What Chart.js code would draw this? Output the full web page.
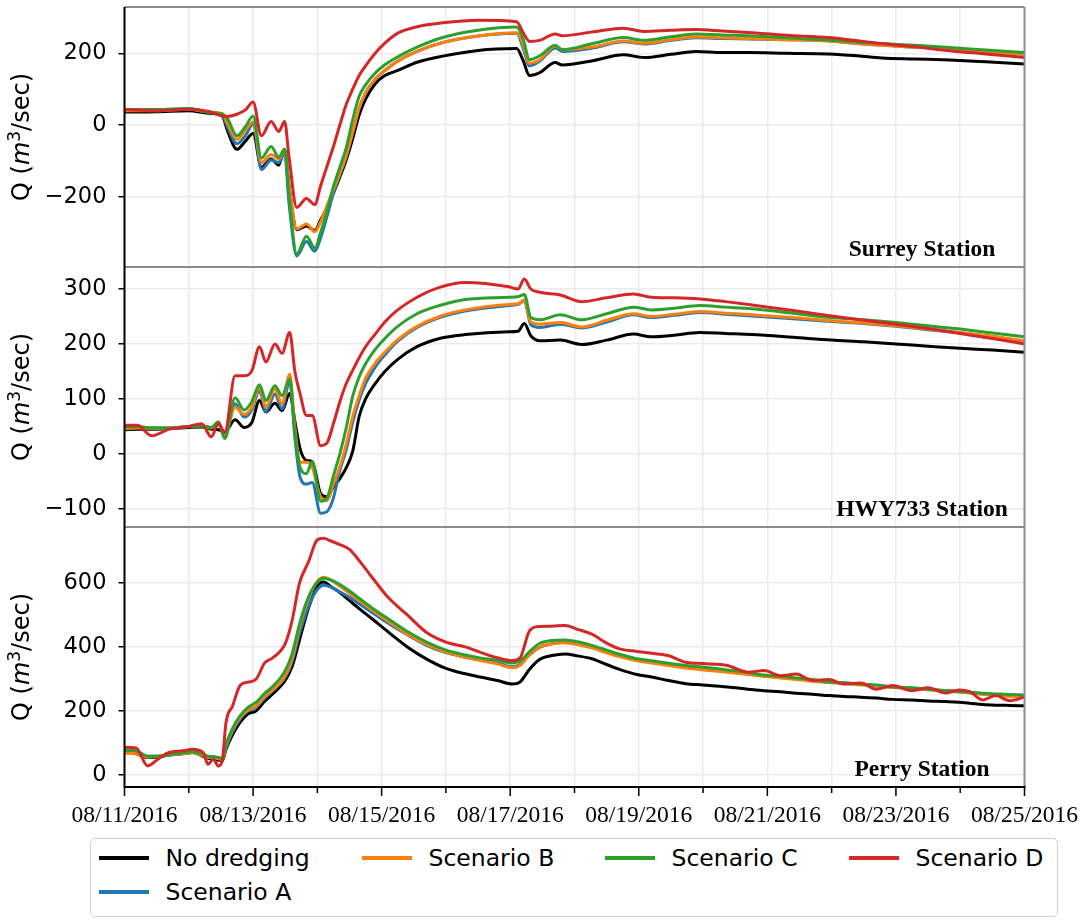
<!DOCTYPE html>
<html>
<head>
<meta charset="utf-8">
<script src="https://cdn.jsdelivr.net/npm/chart.js@4.4.1/dist/chart.umd.min.js"></script>
<style>
    html, body { margin: 0; padding: 0; background: #fff; }
    #wrap { position: relative; width: 1084px; height: 924px; overflow: hidden; }
    #chartBox { position: absolute; left: 0; top: 0; width: 1084px; height: 840px; }
    #legend {
        position: absolute; left: 90px; top: 838px; width: 968px; height: 79px;
        box-sizing: border-box; border: 1.5px solid #d0d0d0; border-radius: 5px;
        font-family: "DejaVu Sans"; font-size: 23.5px; color: #000; background: #fff;
    }
    .item { position: absolute; display: flex; align-items: center; height: 30px; white-space: nowrap; }
    .swatch { width: 50px; height: 4px; margin-right: 17px; }
</style>
</head>
<body>
<div id="wrap">
    <div id="chartBox"><canvas id="flowChart"></canvas></div>
    <div id="legend"></div>
</div>
<script>
const SERIES_NAMES = ['No dredging', 'Scenario A', 'Scenario B', 'Scenario C', 'Scenario D'];
const SERIES_COLORS = ['#000000', '#1f77b4', '#ff7f0e', '#2ca02c', '#d62728'];
const STATION_NAMES = ['Surrey Station', 'HWY733 Station', 'Perry Station'];
const X_TICK_LABELS = ['08/11/2016', '08/13/2016', '08/15/2016', '08/17/2016', '08/19/2016', '08/21/2016', '08/23/2016', '08/25/2016'];

const surreyTicks = [-200, 0, 200];
const hwyTicks = [-100, 0, 100, 200, 300];
const perryTicks = [0, 200, 400, 600];

// x values are days since 08/11/2016 00:00
const surreyDays = [0, 0.5, 1.0, 1.3, 1.52, 1.6, 1.75, 1.88, 2.0, 2.13, 2.28, 2.4, 2.49, 2.56, 2.68, 2.83, 2.96, 3.05, 3.15, 3.25, 3.35, 3.45, 3.55, 3.65, 3.75, 3.9, 4.05, 4.25, 4.55, 4.95, 5.5, 6.1, 6.2, 6.3, 6.46, 6.7, 6.81, 7.3, 7.76, 8.08, 8.5, 8.89, 9.3, 9.7, 10.3, 10.95, 11.4, 11.78, 12.3, 12.84, 13.4, 14.0];
const surreyNoDredging = [36, 37, 40, 33, 25, -15, -68, -45, -24, -118, -95, -112, -68, -170, -292, -282, -294, -265, -232, -190, -145, -97, -38, 28, 72, 115, 138, 152, 175, 192, 208, 213, 180, 138, 146, 174, 167, 180, 196, 188, 197, 205, 202, 202, 200, 198, 193, 187, 184, 181, 176, 170];
const surreyA = [42, 42, 45, 36, 28, -5, -52, -30, 2, -124, -98, -105, -78, -220, -365, -325, -352, -315, -255, -190, -138, -88, -22, 45, 90, 128, 152, 178, 205, 230, 248, 256, 215, 165, 178, 215, 205, 215, 232, 226, 236, 243, 241, 240, 238, 235, 227, 222, 217, 212, 205, 197];
const surreyB = [40, 40, 44, 36, 32, 5, -40, -15, 8, -105, -82, -95, -70, -170, -290, -276, -298, -270, -225, -180, -135, -85, -20, 48, 90, 128, 152, 178, 205, 230, 248, 257, 225, 172, 182, 220, 210, 218, 234, 228, 238, 245, 243, 241, 238, 234, 227, 222, 217, 212, 205, 198];
const surreyC = [43, 43, 46, 36, 30, 18, -30, -5, 25, -92, -60, -90, -68, -200, -360, -310, -343, -300, -240, -172, -118, -63, 15, 80, 112, 145, 168, 190, 217, 244, 264, 273, 240, 182, 193, 222, 210, 228, 244, 236, 246, 254, 251, 249, 243, 237, 231, 227, 222, 216, 209, 202];
const surreyD = [43, 40, 44, 38, 25, 24, 30, 42, 64, -30, 10, -18, 10, -90, -230, -205, -222, -170, -115, -60, 0, 58, 100, 138, 165, 200, 228, 256, 274, 285, 292, 288, 258, 233, 236, 254, 249, 260, 270, 261, 264, 266, 262, 258, 250, 244, 235, 227, 218, 207, 198, 188];

const hwyDays = [0, 0.2, 0.42, 0.7, 1.0, 1.2, 1.35, 1.46, 1.56, 1.72, 1.86, 1.98, 2.1, 2.2, 2.34, 2.45, 2.57, 2.65, 2.73, 2.83, 2.92, 3.05, 3.15, 3.25, 3.35, 3.45, 3.55, 3.65, 3.75, 3.9, 4.05, 4.25, 4.55, 4.9, 5.3, 5.98, 6.12, 6.22, 6.32, 6.46, 6.78, 7.11, 7.5, 7.92, 8.19, 8.55, 8.95, 9.35, 9.76, 10.4, 11.0, 11.5, 12.0, 12.5, 13.0, 13.5, 14.0];
const hwyNoDredging = [44, 45, 45, 46, 48, 49, 45, 44, 40, 62, 48, 57, 97, 76, 92, 79, 110, 60, 10, -12, -14, -72, -78, -60, -45, -25, 5, 68, 100, 128, 150, 172, 195, 210, 217, 222, 223, 237, 215, 206, 207, 199, 207, 218, 213, 216, 221, 219, 217, 212, 207, 204, 200, 196, 192, 189, 185];
const hwyA = [48, 49, 47, 47, 50, 51, 48, 55, 32, 91, 67, 80, 115, 77, 109, 82, 133, 30, -42, -55, -52, -108, -105, -80, -30, 8, 58, 98, 128, 158, 180, 205, 230, 248, 260, 270, 272, 278, 235, 230, 236, 229, 240, 253, 248, 252, 257, 254, 251, 246, 241, 237, 232, 226, 220, 213, 205];
const hwyB = [46, 47, 46, 47, 50, 51, 47, 58, 35, 85, 72, 85, 121, 85, 118, 91, 145, 50, -15, -15, -24, -78, -85, -55, -24, 18, 68, 106, 138, 165, 185, 208, 232, 250, 262, 272, 273, 280, 240, 236, 239, 231, 243, 255, 250, 254, 259, 256, 253, 248, 242, 238, 233, 227, 221, 214, 206];
const hwyC = [48, 50, 47, 47, 50, 51, 48, 58, 28, 102, 80, 95, 126, 97, 124, 106, 136, 40, -24, -36, -14, -86, -80, -40, 0, 48, 105, 140, 164, 190, 210, 232, 255, 270, 281, 285, 286, 290, 248, 244, 253, 244, 255, 267, 262, 265, 270, 267, 264, 256, 248, 244, 239, 233, 227, 220, 213];
const hwyD = [52, 52, 33, 45, 50, 55, 31, 55, 39, 142, 142, 151, 195, 167, 200, 183, 221, 150, 110, 70, 70, 15, 20, 55, 95, 128, 152, 175, 195, 218, 240, 262, 285, 303, 312, 304, 300, 318, 300, 294, 289, 277, 284, 291, 285, 284, 282, 277, 271, 261, 251, 243, 236, 228, 219, 210, 200];

const perryDays = [0, 0.18, 0.36, 0.52, 0.69, 0.9, 1.06, 1.22, 1.3, 1.38, 1.46, 1.52, 1.58, 1.68, 1.8, 1.92, 2.05, 2.18, 2.3, 2.5, 2.61, 2.72, 2.86, 3.0, 3.1, 3.2, 3.35, 3.5, 3.65, 3.85, 4.1, 4.4, 4.7, 5.0, 5.3, 5.55, 5.8, 6.03, 6.15, 6.3, 6.45, 6.65, 6.85, 7.05, 7.27, 7.5, 7.7, 7.97, 8.2, 8.46, 8.73, 9.0, 9.38, 9.7, 9.95, 10.2, 10.45, 10.7, 10.95, 11.2, 11.45, 11.7, 11.95, 12.25, 12.5, 12.77, 12.98, 13.15, 13.35, 13.55, 13.77, 14.0];
const perryNoDredging = [70, 66, 54, 56, 62, 66, 70, 58, 52, 50, 46, 44, 80, 125, 165, 190, 200, 230, 252, 295, 340, 420, 520, 590, 603, 590, 570, 545, 520, 488, 447, 400, 362, 333, 316, 305, 295, 284, 290, 330, 360, 373, 378, 372, 363, 345, 330, 314, 306, 295, 285, 281, 275, 268, 263, 260, 255, 252, 248, 245, 243, 240, 236, 234, 231, 229, 227, 224, 220, 218, 217, 216];
const perryA = [75, 74, 58, 58, 62, 67, 70, 62, 55, 57, 52, 48, 85, 135, 175, 200, 212, 240, 262, 305, 355, 440, 525, 580, 593, 588, 572, 555, 535, 508, 474, 438, 405, 382, 368, 358, 350, 338, 345, 375, 398, 410, 414, 408, 398, 383, 372, 360, 352, 344, 336, 331, 324, 316, 309, 305, 300, 295, 290, 287, 283, 279, 275, 271, 267, 263, 260, 257, 253, 250, 247, 245];
const perryB = [68, 66, 55, 58, 63, 66, 70, 60, 55, 54, 50, 48, 90, 140, 180, 203, 215, 245, 265, 310, 365, 460, 550, 605, 618, 610, 590, 568, 545, 515, 480, 440, 408, 384, 368, 357, 347, 335, 342, 375, 398, 410, 413, 407, 397, 382, 370, 357, 350, 342, 334, 328, 321, 314, 308, 303, 298, 293, 289, 285, 281, 277, 273, 269, 266, 262, 259, 256, 252, 249, 246, 244];
const perryC = [78, 75, 58, 58, 63, 68, 72, 65, 58, 55, 55, 49, 95, 145, 185, 211, 227, 255, 275, 326, 380, 470, 555, 603, 615, 610, 595, 575, 552, 522, 488, 448, 415, 390, 375, 365, 358, 350, 355, 385, 410, 420, 422, 416, 405, 390, 377, 363, 357, 349, 342, 337, 328, 320, 312, 308, 303, 298, 290, 288, 284, 281, 275, 272, 268, 264, 261, 258, 255, 253, 251, 250];
const perryD = [86, 84, 28, 49, 70, 75, 80, 70, 33, 49, 28, 44, 165, 215, 280, 290, 300, 350, 365, 410, 485, 598, 665, 735, 740, 732, 720, 705, 670, 618, 555, 500, 445, 415, 400, 382, 366, 357, 365, 450, 464, 465, 467, 455, 440, 412, 394, 386, 380, 373, 352, 348, 342, 321, 326, 310, 315, 295, 298, 284, 287, 268, 279, 263, 272, 256, 265, 260, 234, 248, 232, 243];

const GRID_COLOR = '#ebebeb';
const FRAME_GRAY = '#8c8c8c';
const TICK_FONT = '"DejaVu Sans"';

const panels = [
    { id: 'ySurrey', days: surreyDays, series: [surreyNoDredging, surreyA, surreyB, surreyC, surreyD], ticks: surreyTicks, min: -396, max: 329, weight: 3 },
    { id: 'yHwy', days: hwyDays, series: [hwyNoDredging, hwyA, hwyB, hwyC, hwyD], ticks: hwyTicks, min: -133, max: 340, weight: 2 },
    { id: 'yPerry', days: perryDays, series: [perryNoDredging, perryA, perryB, perryC, perryD], ticks: perryTicks, min: -38, max: 775, weight: 1 }
];

function formatTick(v) {
    return v < 0 ? '\u2212' + Math.abs(v) : String(v);
}

function createYScale(panel) {
    return {
        type: 'linear',
        position: 'left',
        stack: 'stations',
        stackWeight: 1,
        weight: panel.weight,
        min: panel.min,
        max: panel.max,
        afterBuildTicks: scale => { scale.ticks = panel.ticks.map(v => ({ value: v })); },
        afterFit: scale => { scale.width = 124.5; scale.paddingTop = 0; scale.paddingBottom = 0; },
        ticks: { padding: 12, color: '#000', font: { family: TICK_FONT, size: 22.5 }, callback: formatTick },
        grid: { color: GRID_COLOR, lineWidth: 1.5, tickLength: 6, tickColor: '#000', tickWidth: 1.5 },
        border: { display: false }
    };
}

function buildDatasets() {
    const datasets = [];
    panels.forEach(panel => {
        panel.series.forEach((values, i) => {
            datasets.push({
                label: SERIES_NAMES[i],
                yAxisID: panel.id,
                data: panel.days.map((d, k) => ({ x: d, y: values[k] })),
                borderColor: SERIES_COLORS[i],
                backgroundColor: SERIES_COLORS[i],
                borderWidth: 3,
                pointRadius: 0,
                fill: false,
                order: SERIES_NAMES.length - i
            });
        });
    });
    return datasets;
}

function drawQLabel(ctx, x, cy) {
    const parts = [
        { text: 'Q (', font: '24px ' + TICK_FONT, dy: 0 },
        { text: 'm', font: 'italic 24px ' + TICK_FONT, dy: 0 },
        { text: '3', font: '17px ' + TICK_FONT, dy: -9 },
        { text: '/sec)', font: '24px ' + TICK_FONT, dy: 0 }
    ];
    ctx.save();
    ctx.translate(x, cy);
    ctx.rotate(-Math.PI / 2);
    ctx.fillStyle = '#000';
    ctx.textBaseline = 'alphabetic';
    ctx.textAlign = 'left';
    let total = 0;
    parts.forEach(p => { ctx.font = p.font; p.w = ctx.measureText(p.text).width; total += p.w; });
    let pos = -total / 2;
    parts.forEach(p => { ctx.font = p.font; ctx.fillText(p.text, pos, p.dy); pos += p.w; });
    ctx.restore();
}

const panelFrame = {
    id: 'panelFrame',
    afterDatasetsDraw(chart) {
        const { ctx, chartArea, scales } = chart;
        const xScale = scales.x;
        ctx.save();

        ctx.strokeStyle = FRAME_GRAY;
        ctx.lineWidth = 2;
        ctx.beginPath();
        panels.forEach(p => {
            const s = scales[p.id];
            ctx.moveTo(chartArea.left, s.top);
            ctx.lineTo(chartArea.right, s.top);
        });
        ctx.moveTo(chartArea.right, chartArea.top);
        ctx.lineTo(chartArea.right, chartArea.bottom);
        ctx.stroke();

        ctx.strokeStyle = '#000';
        ctx.beginPath();
        ctx.moveTo(chartArea.left, chartArea.top);
        ctx.lineTo(chartArea.left, chartArea.bottom);
        ctx.lineTo(chartArea.right + 1, chartArea.bottom);
        ctx.stroke();

        ctx.lineWidth = 1.5;
        ctx.beginPath();
        xScale.ticks.forEach(t => {
            const px = xScale.getPixelForValue(t.value);
            ctx.moveTo(px, chartArea.bottom);
            ctx.lineTo(px, chartArea.bottom + (t.value % 2 === 0 ? 9 : 6));
        });
        ctx.stroke();

        ctx.fillStyle = '#000';
        ctx.font = 'bold 23.5px "Liberation Serif"';
        ctx.textAlign = 'center';
        ctx.textBaseline = 'alphabetic';
        panels.forEach((p, i) => {
            const s = scales[p.id];
            ctx.fillText(STATION_NAMES[i], chartArea.right - 102.5, s.bottom - 11);
            drawQLabel(ctx, 29, (s.top + s.bottom) / 2);
        });
        ctx.restore();
    }
};

const scales = {
    x: {
        type: 'linear',
        min: 0,
        max: 14,
        afterBuildTicks: scale => { scale.ticks = Array.from({ length: 15 }, (_, d) => ({ value: d })); },
        afterFit: scale => { scale.height = 53; scale.paddingLeft = 0; scale.paddingRight = 0; },
        ticks: {
            autoSkip: false, maxRotation: 0, minRotation: 0, padding: 6, color: '#000',
            font: { family: 'Liberation Serif', size: 23.5 },
            callback: v => (v % 2 === 0 ? X_TICK_LABELS[v / 2] : '')
        },
        grid: { color: GRID_COLOR, lineWidth: 1.5, tickLength: 9, tickColor: 'rgba(0,0,0,0)' },
        border: { display: false }
    }
};
panels.forEach(p => { scales[p.id] = createYScale(p); });

new Chart(document.getElementById('flowChart'), {
    type: 'line',
    data: { datasets: buildDatasets() },
    options: {
        responsive: true,
        maintainAspectRatio: false,
        animation: false,
        layout: { padding: { left: 0, right: 59.5, top: 7, bottom: 0 } },
        elements: { line: { cubicInterpolationMode: 'monotone' }, point: { radius: 0 } },
        plugins: { legend: { display: false }, tooltip: { enabled: false } },
        scales: scales
    },
    plugins: [panelFrame]
});

// legend laid out like the original: 4 columns, filled column by column
const LEGEND_SLOTS = [[0, 0], [0, 1], [1, 0], [2, 0], [3, 0]];
const LEGEND_COL_LEFT = [7.5, 270.5, 513.5, 757.5];
const legendBox = document.getElementById('legend');
legendBox.innerHTML = SERIES_NAMES.map((name, i) => {
    const [col, row] = LEGEND_SLOTS[i];
    return `<div class="item" style="left:${LEGEND_COL_LEFT[col]}px; top:${4 + row * 34}px;">
        <span class="swatch" style="background:${SERIES_COLORS[i]};"></span><span>${name}</span>
    </div>`;
}).join('');
</script>
</body>
</html>
